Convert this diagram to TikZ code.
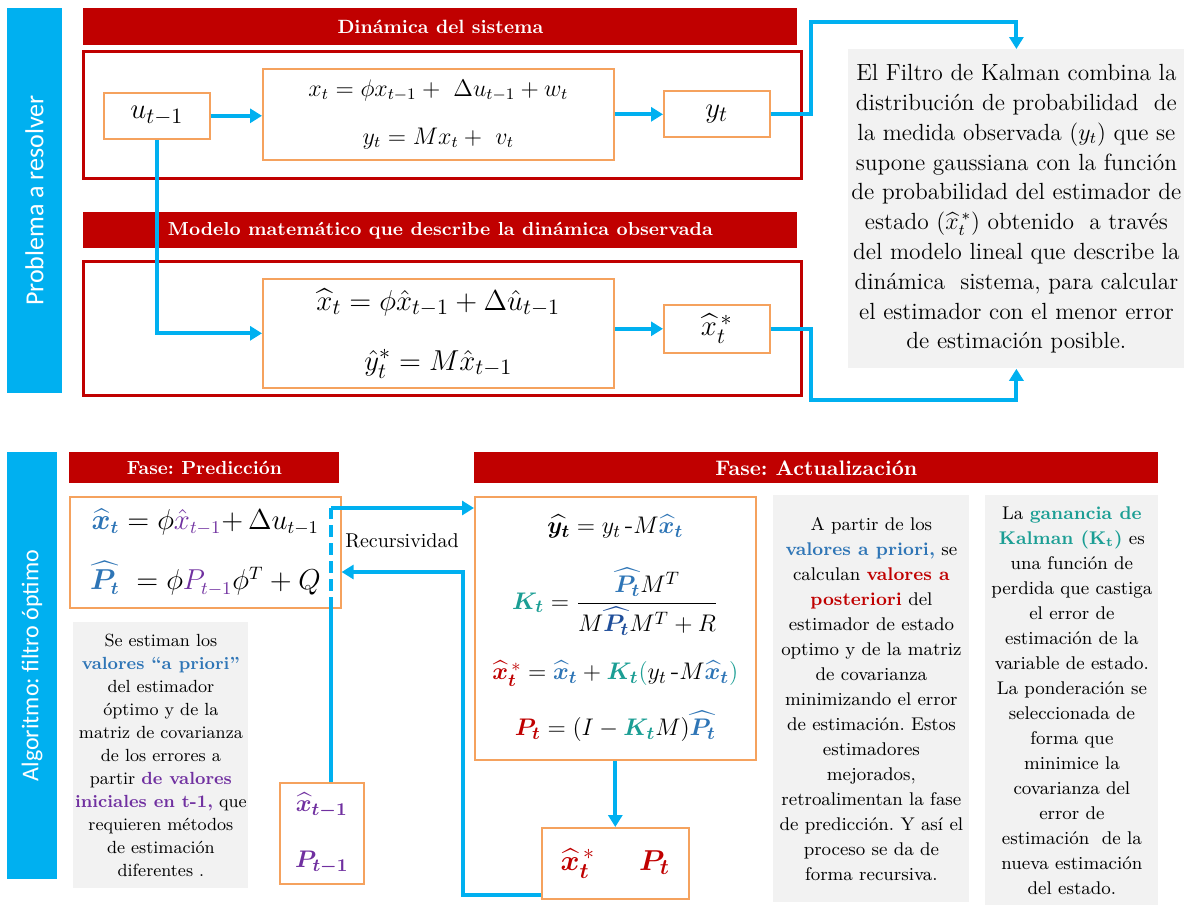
\documentclass[tikz,border=0pt]{standalone}
\usepackage{amsmath,amssymb}
\usepackage{bm}
\usepackage{fontspec}
\newfontfamily\barfont{Carlito}
\usetikzlibrary{arrows.meta, positioning, calc}
\frenchspacing

\definecolor{kred}{HTML}{C00000}
\definecolor{kblue}{HTML}{00B0F0}
\definecolor{korange}{HTML}{F5A25E}
\definecolor{kgray}{HTML}{F2F2F2}
\definecolor{tblue}{HTML}{2E75B6}
\definecolor{tpurple}{HTML}{7030A0}
\definecolor{tteal}{HTML}{1B9E94}
\definecolor{tnavy}{HTML}{1F4E9A}

\begin{document}
\begin{tikzpicture}[
    x=0.5pt, y=-0.5pt,
    sidebar/.style={fill=kblue, text=white, inner sep=0pt},
    header/.style={anchor=north west, fill=kred, text=white, inner sep=0pt},
    frame/.style={anchor=north west, draw=kred, line width=1.5pt, inner sep=0pt},
    eqbox/.style={anchor=north west, draw=korange, line width=0.8pt, fill=white, inner sep=0pt, align=center},
    note/.style={anchor=north west, fill=kgray, inner sep=0pt, align=center},
    wire/.style={draw=kblue, line width=2pt},
    dwire/.style={wire, dash pattern=on 6pt off 3pt},
    link/.style={wire, -{Triangle[length=6pt, width=7pt]}}
]
    \useasboundingbox (0,0) rectangle (1184,905);

    % Problem to solve
    \node [sidebar, rotate=90, minimum width=192.5pt, minimum height=27.5pt, font=\barfont\fontsize{13}{15}\selectfont] (probl) at (34.5,200.5) {Problema a resolver};

    \node [header, minimum width=357pt, minimum height=18.5pt, font=\bfseries\fontsize{9.6}{12}\selectfont] (hdrsis) at (83,8) {Dinámica del sistema};
    \node [frame, minimum width=359pt, minimum height=63.5pt] (frmsis) at (82,50) {};
    \node [eqbox, minimum width=53pt, minimum height=23pt, font=\fontsize{15}{18}\selectfont] (uprev) at (103,92) {$u_{t-1}$};
    \node [eqbox, minimum width=175.5pt, minimum height=45.5pt, font=\fontsize{12}{14}\selectfont] (eqsis) at (262,68)
        {$x_t = \phi x_{t-1} +\ \Delta u_{t-1} + w_t$\\[10pt] $y_t = M x_t +\ v_t$};
    \node [eqbox, minimum width=53pt, minimum height=23pt, font=\fontsize{15}{18}\selectfont] (yobs) at (663,90) {$y_t$};

    \node [header, minimum width=357pt, minimum height=18pt, font=\bfseries\fontsize{9.4}{12}\selectfont] (hdrmod) at (83,212) {Modelo matemático que describe la dinámica observada};
    \node [frame, minimum width=359pt, minimum height=67pt] (frmmod) at (82,260) {};
    \node [eqbox, minimum width=175.5pt, minimum height=54.5pt, font=\fontsize{15}{18}\selectfont] (eqmod) at (262,278)
        {$\widehat{x}_t = \phi\hat{x}_{t-1} + \Delta\hat{u}_{t-1}$\\[12pt] $\hat{y}_t^{*} = M\hat{x}_{t-1}$};
    \node [eqbox, minimum width=53pt, minimum height=24pt, font=\fontsize{15}{18}\selectfont] (xest) at (663,304) {$\widehat{x}_t^{\,*}$};

    \node [note, minimum width=168pt, minimum height=159.5pt, font=\fontsize{11.7}{14.9}\selectfont] (kfnote) at (848,49)
        {El Filtro de Kalman combina la\\
         distribución de probabilidad\ \ de\\
         la medida observada ($y_t$) que se\\
         supone gaussiana con la función\\
         de probabilidad del estimador de\\
         estado ($\widehat{x}_t^{\,*}$) obtenido\ \ a través\\
         del modelo lineal que describe la\\
         dinámica\ \ sistema, para calcular\\
         el estimador con el menor error\\
         de estimación posible.};

    \draw [link] (uprev.east) -- (uprev.east -| eqsis.west);
    \draw [link] (uprev.south) |- (eqmod.west);
    \draw [link] (eqsis.east) -- (eqsis.east -| yobs.west);
    \draw [link] (eqmod.east |- xest.west) -- (xest.west);
    \draw [link] (yobs.east) -- ++(40,0) |- ([yshift=13.5pt]kfnote.north) -- (kfnote.north);
    \draw [link] (xest.east) -- ++(40,0) |- ([yshift=-15.5pt]kfnote.south) -- (kfnote.south);

    % Optimal filter algorithm
    \node [sidebar, rotate=90, minimum width=213.5pt, minimum height=25pt, font=\barfont\fontsize{12}{14}\selectfont] (algor) at (32,665.5) {Algoritmo: filtro óptimo};

    \node [header, minimum width=135pt, minimum height=15.5pt, font=\bfseries\fontsize{9.5}{11}\selectfont] (hdrpred) at (69,452) {Fase: Predicción};
    \node [eqbox, minimum width=135.5pt, minimum height=55.5pt, font=\fontsize{13.5}{16}\selectfont] (eqpred) at (69,496)
        {$\textcolor{tblue}{\widehat{\bm{x}}_{\bm{t}}} = \phi\textcolor{tpurple}{\hat{x}_{t-1}}{+}\,\Delta u_{t-1}$\\[12pt]
         $\textcolor{tblue}{\widehat{\bm{P}_{\bm{t}}}}\ = \phi\textcolor{tpurple}{P_{t-1}}\phi^T + Q$};
    \node [note, minimum width=87.5pt, minimum height=133pt, font=\fontsize{8.8}{11.5}\selectfont] (prednote) at (73,622)
        {Se estiman los\\
         \textcolor{tblue}{\textbf{valores “a priori”}}\\
         del estimador\\
         óptimo y de la\\
         matriz de covarianza\\
         de los errores a\\
         partir \textcolor{tpurple}{\textbf{de valores}}\\
         \textcolor{tpurple}{\textbf{iniciales en t-1,}} que\\
         requieren métodos\\
         de estimación\\
         diferentes .};
    \node [eqbox, minimum width=42pt, minimum height=50.5pt, font=\fontsize{13}{16}\selectfont] (init) at (279,782)
        {$\textcolor{tpurple}{\widehat{\bm{x}}_{\bm{t-1}}}$\\[12pt] $\textcolor{tpurple}{\bm{P}_{\bm{t-1}}}$};

    \node [header, minimum width=342pt, minimum height=15.5pt, font=\bfseries\fontsize{10.5}{12}\selectfont] (hdract) at (474,452) {Fase: Actualización};
    \node [eqbox, minimum width=140.5pt, minimum height=131.5pt, font=\fontsize{13}{16}\selectfont] (eqact) at (474,496)
        {$\widehat{\bm{y}_{\bm{t}}} = y_t\,\text{-}M\textcolor{tblue}{\widehat{\bm{x}}_{\bm{t}}}$\\[14pt]
         $\textcolor{tteal}{\bm{K}_{\bm{t}}} = \dfrac{\textcolor{tblue}{\widehat{\bm{P}_{\bm{t}}}}M^T}{M\textcolor{tnavy}{\widehat{\bm{P}_{\bm{t}}}}M^T + R}$\\[12pt]
         $\textcolor{kred}{\widehat{\bm{x}}_{\bm{t}}^{\,*}} = \textcolor{tblue}{\widehat{\bm{x}}_{\bm{t}}} + \textcolor{tteal}{\bm{K}_{\bm{t}}(}y_t\,\text{-}M\textcolor{tblue}{\widehat{\bm{x}}_{\bm{t}}}\textcolor{tteal}{)}$\\[12pt]
         $\textcolor{kred}{\bm{P}_{\bm{t}}} = (I - \textcolor{tteal}{\bm{K}_{\bm{t}}}M)\textcolor{tblue}{\widehat{\bm{P}_{\bm{t}}}}$};
    \node [eqbox, minimum width=73.5pt, minimum height=35.5pt, font=\fontsize{15}{18}\selectfont] (post) at (541,827)
        {$\textcolor{kred}{\widehat{\bm{x}}_{\bm{t}}^{\,*}}$\hspace{22pt}$\textcolor{kred}{\bm{P}_{\bm{t}}}$};
    \node [note, minimum width=98pt, minimum height=203.5pt, font=\fontsize{9.2}{12.5}\selectfont] (actnote) at (773,495)
        {A partir de los\\
         \textcolor{tblue}{\textbf{valores a priori,}} se\\
         calculan \textcolor{kred}{\textbf{valores a}}\\
         \textcolor{kred}{\textbf{posteriori}} del\\
         estimador de estado\\
         optimo y de la matriz\\
         de covarianza\\
         minimizando el error\\
         de estimación. Estos\\
         estimadores\\
         mejorados,\\
         retroalimentan la fase\\
         de predicción. Y así el\\
         proceso se da de\\
         forma recursiva.};
    \node [note, minimum width=86.5pt, minimum height=205pt, font=\fontsize{9.2}{12.5}\selectfont] (gainnote) at (985,495)
        {La \textcolor{tteal}{\textbf{ganancia de}}\\
         \textcolor{tteal}{\textbf{Kalman (K\textsubscript{t})}} es\\
         una función de\\
         perdida que castiga\\
         el error de\\
         estimación de la\\
         variable de estado.\\
         La ponderación se\\
         seleccionada de\\
         forma que\\
         minimice la\\
         covarianza del\\
         error de\\
         estimación\ \ de la\\
         nueva estimación\\
         del estado.};

    % Recursion loop
    \coordinate (rec) at (331,508);
    \coordinate (fb) at (463,572);
    \draw [wire] (rec |- init.north) -- (rec |- eqpred.south);
    \draw [dwire] (rec |- eqpred.south) -- (rec);
    \draw [link] (rec) -- (rec -| eqact.west);
    \node [font=\fontsize{10}{12}\selectfont] (recur) at (402,541) {Recursividad};
    \draw [link] (eqact.south) -- (post.north);
    \draw [link] ([yshift=2.5pt]post.south west) -| (fb) -- (fb -| eqpred.east);

\end{tikzpicture}
\end{document}
